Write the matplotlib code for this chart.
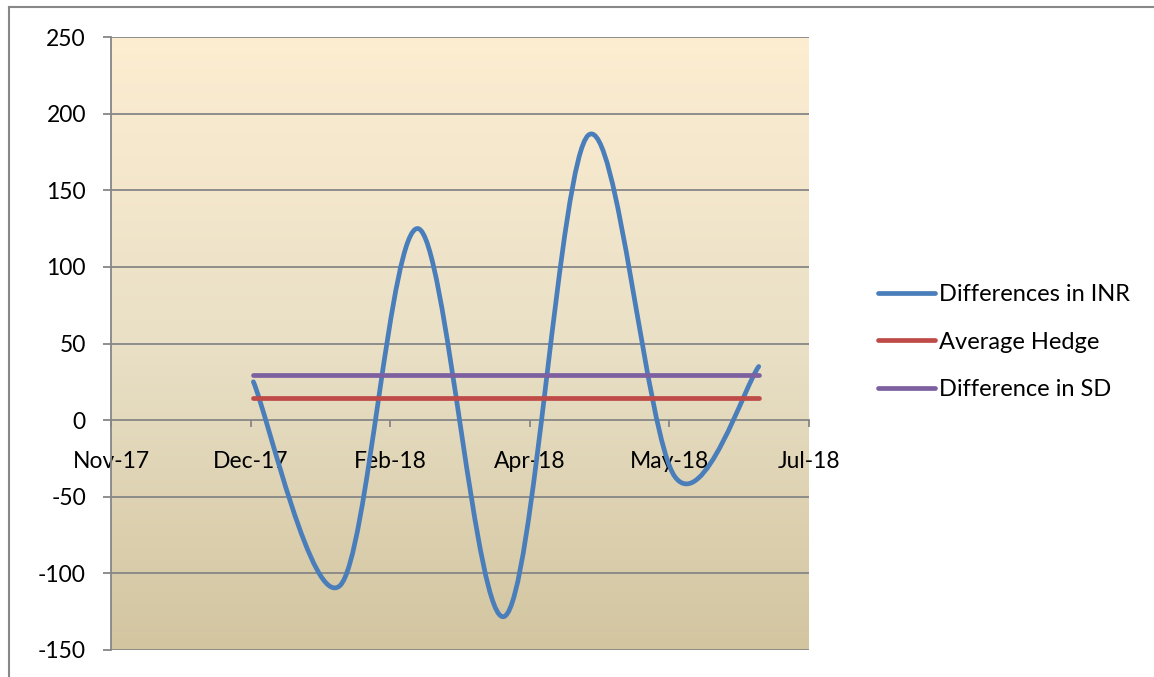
import datetime as dt
import numpy as np
import matplotlib
matplotlib.use("Agg")
import matplotlib.pyplot as plt
import matplotlib.dates as mdates
from matplotlib.path import Path
from matplotlib.patches import PathPatch
from matplotlib.lines import Line2D
from matplotlib.colors import LinearSegmentedColormap

# data (monthly, Jan-18 .. Jul-18)
months = [dt.datetime(2018, m, 1) for m in range(1, 8)]
diff_inr = [25, -108, 125, -128, 186, -37, 35]
avg_hedge = [14.5] * 7
diff_sd = [29.5] * 7

tick_dates = [dt.datetime(2017, 11, 11), dt.datetime(2017, 12, 31), dt.datetime(2018, 2, 19),
              dt.datetime(2018, 4, 10), dt.datetime(2018, 5, 30), dt.datetime(2018, 7, 19)]
y_ticks = [-150, -100, -50, 0, 50, 100, 150, 200, 250]

blue = "#4A7EBB"
red = "#BE4B48"
purple = "#7D60A0"
grid_col = "#868686"


def smooth_path(xs, ys):
    # excel-like smoothed line: cubic bezier through points (catmull-rom tangents)
    pts = np.column_stack([xs, ys])
    verts = [pts[0]]
    codes = [Path.MOVETO]
    n = len(pts)
    for i in range(n - 1):
        p0 = pts[i - 1] if i > 0 else pts[i]
        p1 = pts[i]
        p2 = pts[i + 1]
        p3 = pts[i + 2] if i + 2 < n else pts[i + 1]
        c1 = p1 + (p2 - p0) / 6.0
        c2 = p2 - (p3 - p1) / 6.0
        verts += [c1, c2, p2]
        codes += [Path.CURVE4] * 3
    return Path(verts, codes)


def main():
    plt.rcParams['font.family'] = ['Lato', 'DejaVu Sans']
    plt.rcParams['font.size'] = 16.5
    plt.rcParams['axes.unicode_minus'] = False

    fig = plt.figure(figsize=(11.54, 6.77), dpi=100)
    ax = fig.add_axes([111 / 1154, 1 - 650 / 677, (809 - 111) / 1154, (650 - 37) / 677])

    x0 = mdates.date2num(tick_dates[0])
    x1 = mdates.date2num(tick_dates[-1])
    ax.set_xlim(x0, x1)
    ax.set_ylim(-150, 250)

    # gradient background
    cmap = LinearSegmentedColormap.from_list("bg", ["#D3C5A0", "#E9E0C6", "#FDEDD1"])
    grad = np.linspace(0, 1, 256).reshape(-1, 1)
    ax.imshow(grad, cmap=cmap, aspect="auto", origin="lower",
              extent=[x0, x1, -150, 250], zorder=0)

    for y in y_ticks:
        if y != 0:
            ax.axhline(y, color=grid_col, lw=1.3, zorder=1)

    xs = mdates.date2num(months)
    path = smooth_path(xs, diff_inr)
    ax.add_patch(PathPatch(path, facecolor="none", edgecolor=blue, lw=3.4,
                           capstyle="round", joinstyle="round", zorder=3))
    ax.plot(xs, avg_hedge, color=red, lw=3.4, solid_capstyle="round", zorder=3)
    ax.plot(xs, diff_sd, color=purple, lw=3.4, solid_capstyle="round", zorder=3)

    for s in ["top", "right"]:
        ax.spines[s].set_visible(False)
    ax.spines["left"].set_color(grid_col)
    ax.spines["left"].set_linewidth(1.3)
    ax.spines["bottom"].set_position(("data", 0))
    ax.spines["bottom"].set_color(grid_col)
    ax.spines["bottom"].set_linewidth(1.3)

    ax.set_xticks(mdates.date2num(tick_dates))
    ax.xaxis.set_major_formatter(mdates.DateFormatter("%b-%y"))
    ax.set_yticks(y_ticks)
    ax.tick_params(axis="y", length=6, width=1.3, color=grid_col, pad=12, labelsize=16.5)
    ax.tick_params(axis="x", length=5, width=1.3, color=grid_col, pad=17, labelsize=16.5)

    handles = [Line2D([], [], color=c, lw=3.4, solid_capstyle="round") for c in (blue, red, purple)]
    fig.legend(handles, ["Differences in INR", "Average Hedge", "Difference in SD"],
               loc="center left", bbox_to_anchor=(878 / 1154, 1 - 342 / 677),
               frameon=False, borderpad=0, borderaxespad=0, handlelength=2.4,
               handletextpad=0.2, labelspacing=1.12, fontsize=17)

    # chart area border
    fig.add_artist(Line2D([8.5 / 1154, 8.5 / 1154], [1 - 7 / 677, -0.1], color="#888888", lw=1.5,
                          transform=fig.transFigure))
    fig.add_artist(Line2D([8.5 / 1154, 1.1], [1 - 7 / 677, 1 - 7 / 677], color="#888888", lw=1.5,
                          transform=fig.transFigure))

    plt.savefig("out.png", dpi=100)


if __name__ == "__main__":
    main()
